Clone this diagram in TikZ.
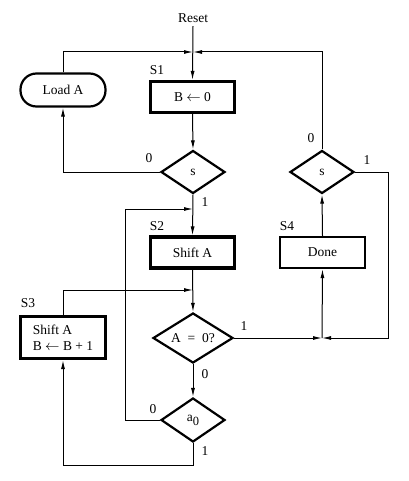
\documentclass[tikz,border=0pt]{standalone}
\usepackage{fontspec}
\setmainfont{Liberation Serif}
\usepackage{tikz}
\usetikzlibrary{arrows.meta,shapes.geometric}

\begin{document}
\begin{tikzpicture}[x=1pt, y=-1pt,
    every node/.style={font=\fontsize{13.5}{16}\selectfont},
    flow/.style={line width=1pt, -{Latex[length=9pt,width=4pt]}},
    statebox/.style={draw, line width=3.2pt, minimum width=84pt, minimum height=31pt, inner sep=2pt},
    plainbox/.style={draw, line width=2.2pt, minimum width=85pt, minimum height=31pt},
    test/.style={draw, diamond, line width=2.2pt, inner sep=0pt, aspect=1.5},
    tag/.style={inner sep=1pt}]
    \useasboundingbox (0,0) rectangle (408,481);
    \node (reset) at (193,18) {Reset};
    \node[statebox] (stA) at (192.5,97) {B $\leftarrow$ 0};
    \node[draw, line width=2.2pt, rounded corners=16pt, minimum width=85pt, minimum height=33pt] (loadA) at (63,90) {Load A};
    \node[test, minimum width=64pt, minimum height=43pt] (tstS) at (193,172) {s};
    \node[test, minimum width=64pt, minimum height=43pt] (tstE) at (322,172) {s};
    \node[statebox] (stB) at (192.5,252.5) {Shift A};
    \node[plainbox] (stD) at (322.5,252.5) {Done};
    \node[statebox, minimum width=85pt, minimum height=42pt, align=left] (stC) at (63,337.5) {Shift A\\B $\leftarrow$ B + 1};
    \node[test, minimum width=80pt, minimum height=50pt] (tstA) at (193,338) {A ~= ~0?};
    \node[test, minimum width=64pt, minimum height=44pt] (tstLow) at (193,420) {a\raisebox{-4pt}{\fontsize{12.5}{14}\selectfont 0}};
    \coordinate (jTop) at (193,52);
    \coordinate (jMid) at (193,209);
    \coordinate (jLow) at (193,290);
    \coordinate (jDone) at (322,338);
	\node[tag] (lbA) at (157,70) {S1};
	\node[tag] (lbB) at (157,226) {S2};
	\node[tag] (lbC) at (28,303) {S3};
	\node[tag] (lbD) at (287,226) {S4};
	\node[tag] (oSa) at (149,158) {0};
	\node[tag] (oSb) at (205,202) {1};
	\node[tag] (oEa) at (311,138) {0};
	\node[tag] (oEb) at (367,160) {1};
	\node[tag] (oAa) at (244,326) {1};
	\node[tag] (oAb) at (205,374) {0};
	\node[tag] (oLa) at (153,409) {0};
	\node[tag] (oLb) at (205,451) {1};
    \draw[flow] (reset.south) -- (stA.north);
    \draw[flow] (loadA.north) |- (jTop);
    \draw[flow] (tstE.north) |- (jTop);
    \draw[flow] (stA.south) -- (tstS.north);
    \draw[flow] (tstS.west) -| (loadA.south);
    \draw[flow] (tstS.south) -- (stB.north);
    \draw[flow] (tstLow.west) -- ++(-34,0) |- (jMid);
    \draw[flow] (stB.south) -- (tstA.north);
    \draw[flow] (stC.north) |- (jLow);
    \draw[flow] (tstA.south) -- (tstLow.north);
    \draw[flow] (tstLow.south) -- ++(0,22) -| (stC.south);
    \draw[flow] (tstA.east) -- (jDone);
    \draw[flow] (tstE.east) -- ++(33,0) |- (jDone);
    \draw[flow] (jDone) -- (stD.south);
    \draw[flow] (stD.north) -- (tstE.south);
\end{tikzpicture}
\end{document}
